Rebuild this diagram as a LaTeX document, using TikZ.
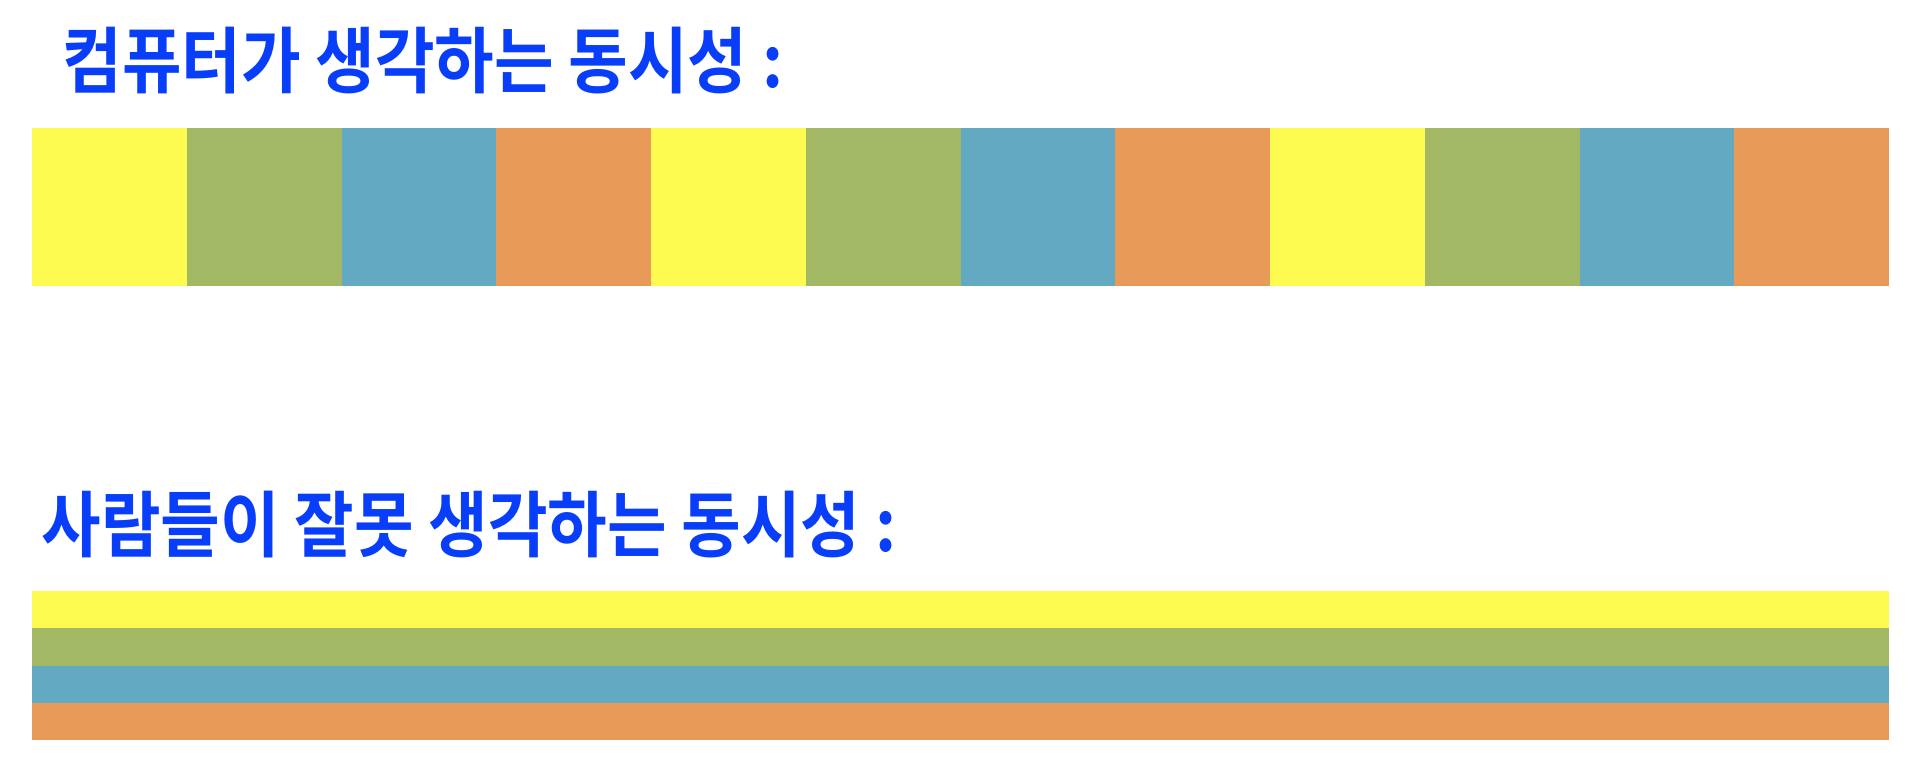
\documentclass[tikz,border=0pt]{standalone}
\usepackage{fontspec}
\newfontfamily\krfont{Noto Sans CJK KR}[BoldFont={* Bold}]
\definecolor{cyel}{RGB}{253,250,80}
\definecolor{cgrn}{RGB}{163,184,101}
\definecolor{cblu}{RGB}{100,169,194}
\definecolor{corg}{RGB}{232,154,88}
\definecolor{ttl}{RGB}{8,62,250}
\tikzset{
  ttlnode/.style={anchor=west, inner sep=0pt, text=ttl, font=\krfont\bfseries\fontsize{36pt}{40pt}\selectfont},
}
\begin{document}
\begin{tikzpicture}[x=0.5pt,y=-0.5pt]
\useasboundingbox[fill=white] (0,0) rectangle (1932,774);
\node[ttlnode] (t1) at (62,61) {\scalebox{0.9}[1]{컴퓨터가 생각하는 동시성 :}};
\node[ttlnode] (t2) at (41,525) {\scalebox{0.9}[1]{사람들이 잘못 생각하는 동시성 :}};
\foreach \i/\c in {0/cyel,1/cgrn,2/cblu,3/corg,4/cyel,5/cgrn,6/cblu,7/corg,8/cyel,9/cgrn,10/cblu,11/corg}{
  \fill[\c] ({32+\i*154.75},128) rectangle ({32+(\i+1)*154.75},286);
}
\foreach \i/\c in {0/cyel,1/cgrn,2/cblu,3/corg}{
  \fill[\c] (32,{591+\i*37.3}) rectangle (1889,{591+(\i+1)*37.3});
}
\end{tikzpicture}
\end{document}
